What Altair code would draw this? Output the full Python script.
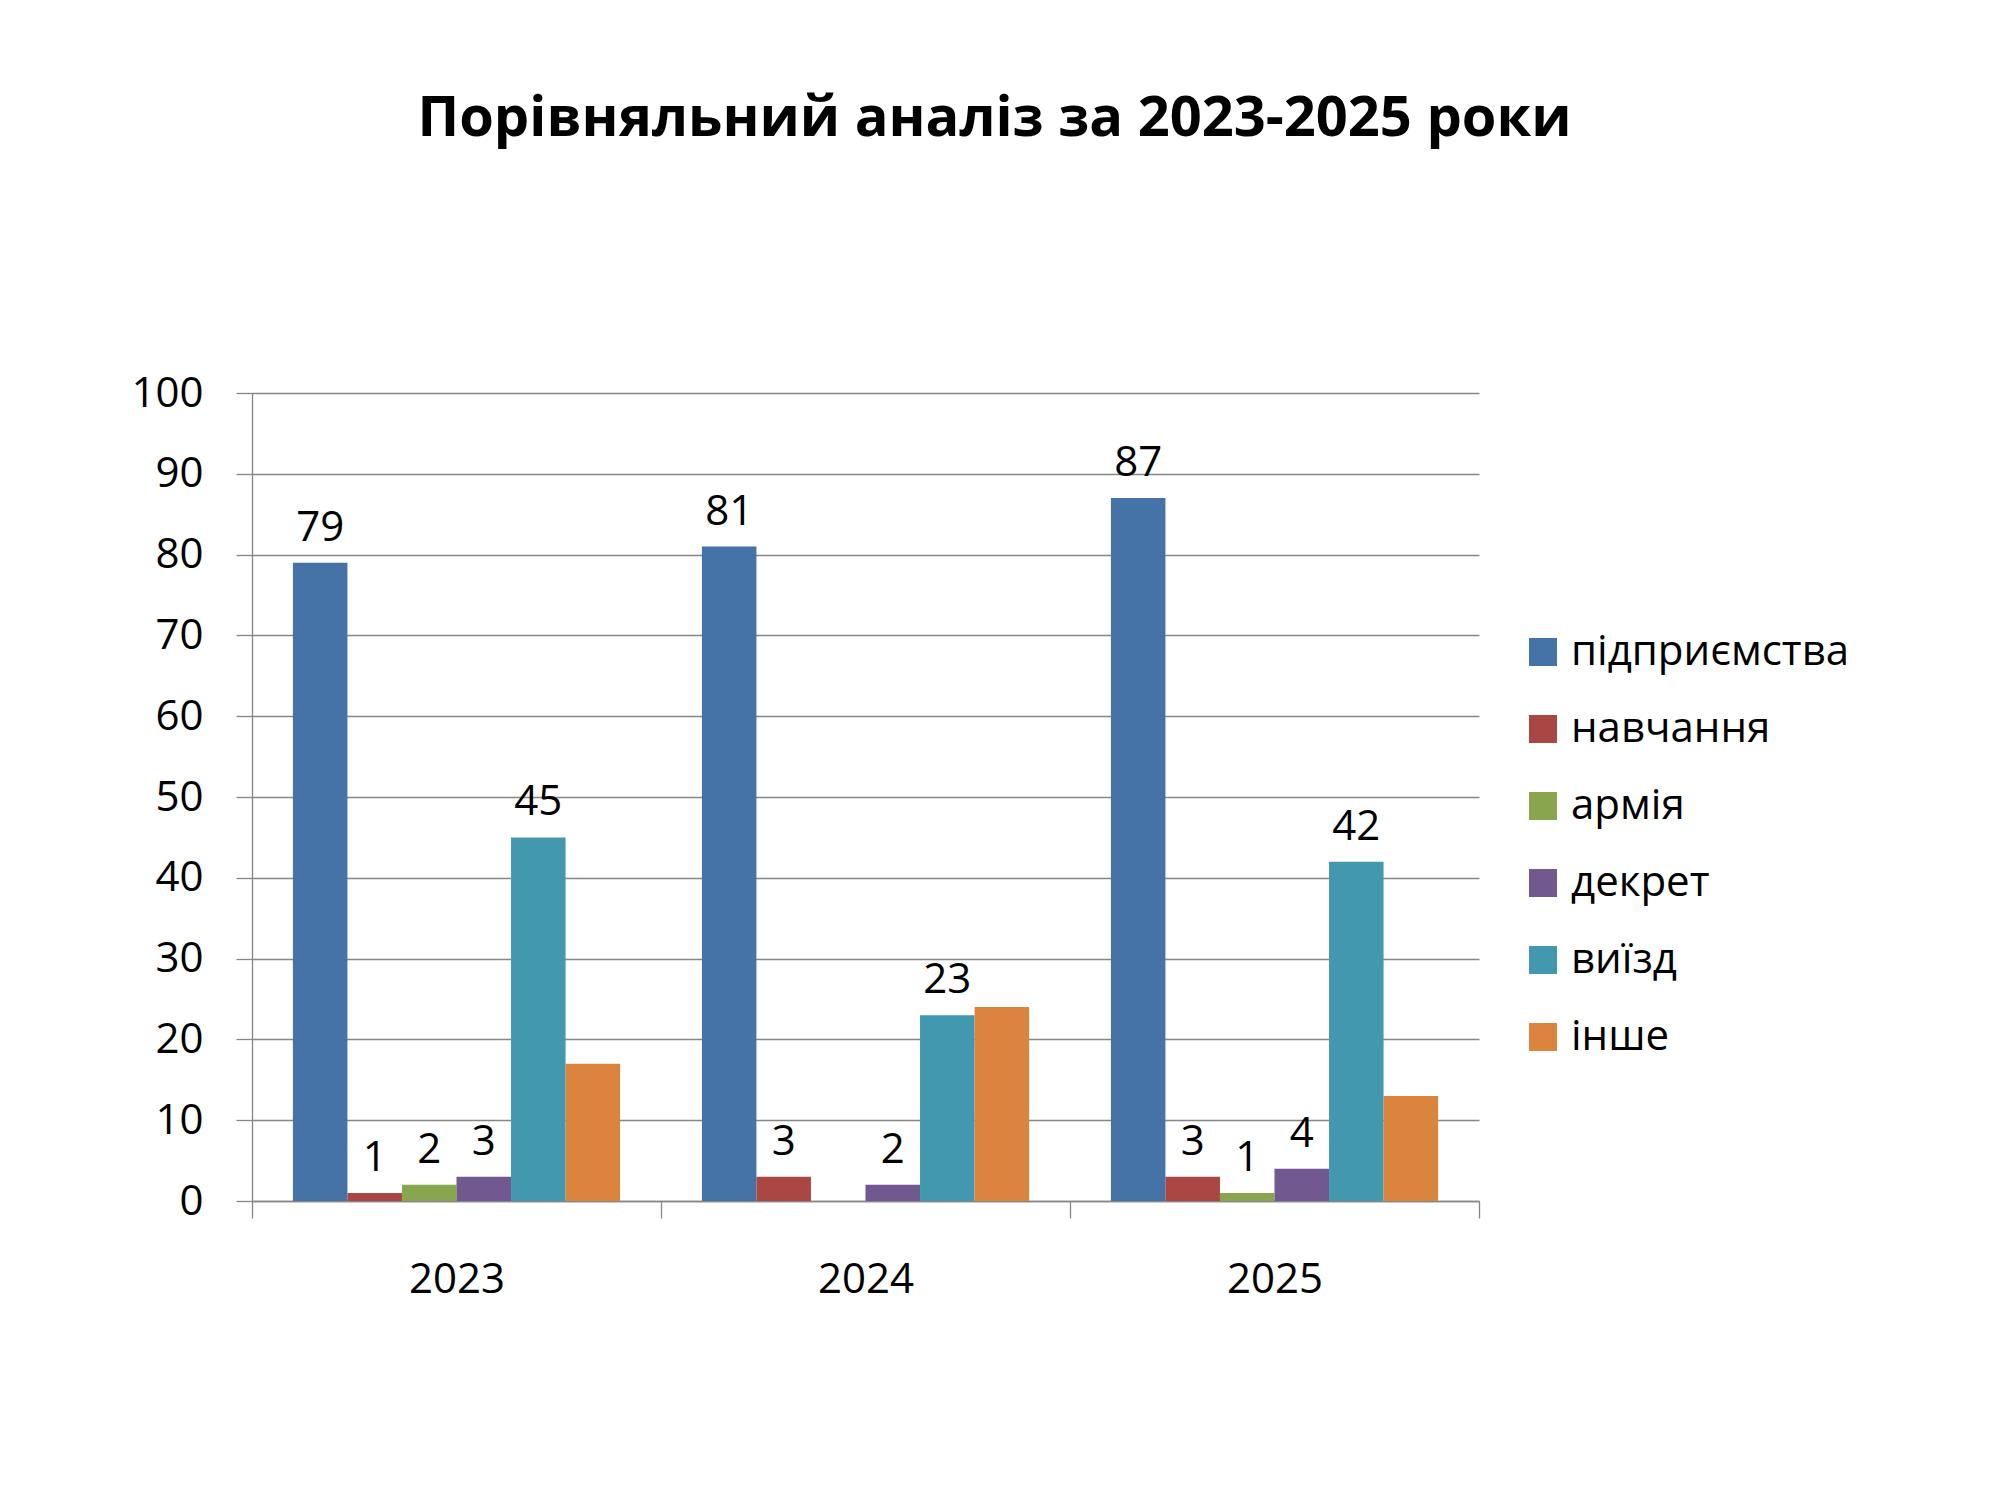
import altair as alt
import pandas as pd

years = ["2023", "2024", "2025"]
categories = ["підприємства", "навчання", "армія", "декрет", "виїзд", "інше"]
colors = ["#4572A7", "#AA4643", "#89A54E", "#71588F", "#4198AF", "#DB843D"]

v_pidpr = [79, 81, 87]
v_navch = [1, 3, 3]
v_armia = [2, None, 1]
v_dekret = [3, 2, 4]
v_vyizd = [45, 23, 42]
v_inshe = [17, 24, 13]

series = [v_pidpr, v_navch, v_armia, v_dekret, v_vyizd, v_inshe]
rows = []
for cat, vals in zip(categories, series):
    for y, v in zip(years, vals):
        rows.append({"year": y, "category": cat, "value": v})
df = pd.DataFrame(rows)

FONT = "Open Sans"
GRAY = "#868686"

x_enc = alt.X("year:N", sort=years, title=None,
              scale=alt.Scale(paddingInner=0, paddingOuter=0),
              axis=alt.Axis(labelAngle=0, tickBand="extent", tickSize=17,
                            tickColor=GRAY, domainColor=GRAY, domainWidth=1.3,
                            tickWidth=1.3, labelFontSize=42, labelFont=FONT,
                            labelColor="black", labelPadding=41, grid=False))
xo_enc = alt.XOffset("category:N", sort=categories,
                     scale=alt.Scale(paddingInner=0, paddingOuter=0.75))
y_enc = alt.Y("value:Q", title=None,
              scale=alt.Scale(domain=[0, 100], nice=False),
              axis=alt.Axis(values=list(range(0, 101, 10)), tickSize=16,
                            tickColor=GRAY, domainColor=GRAY, domainWidth=1.3,
                            tickWidth=1.3, gridColor=GRAY, gridWidth=1.3,
                            labelFontSize=42, labelFont=FONT, labelColor="black",
                            labelPadding=33))

bars = alt.Chart(df).mark_bar().encode(
    x=x_enc,
    xOffset=xo_enc,
    y=y_enc,
    color=alt.Color("category:N", sort=categories,
                    scale=alt.Scale(domain=categories, range=colors),
                    legend=alt.Legend(title=None, orient="none", legendX=1270,
                                      legendY=238, symbolType="square",
                                      symbolSize=784, symbolStrokeWidth=0,
                                      labelFontSize=42, labelFont=FONT,
                                      labelColor="black", labelOffset=7,
                                      labelLimit=0, rowPadding=35)),
)

labels = alt.Chart(df).transform_filter(
    "isValid(datum.value) && datum.category != 'інше'"
).mark_text(baseline="alphabetic", dy=-22, fontSize=42, font=FONT,
            color="black").encode(
    x=alt.X("year:N", sort=years),
    xOffset=alt.XOffset("category:N", sort=categories),
    y=alt.Y("value:Q"),
    text=alt.Text("value:Q", format="d"),
)

chart = alt.layer(bars, labels).properties(
    width=1227,
    height=808,
    background="white",
    autosize=alt.AutoSizeParams(type="none"),
    padding={"left": 244, "top": 385, "right": 500, "bottom": 280},
    title=alt.TitleParams(
        "Порівняльний аналіз за 2023-2025 роки",
        fontSize=56, font=FONT, fontWeight="bold", color="black",
        anchor="middle", dx=129, baseline="alphabetic", offset=180,
    ),
).configure_view(stroke=None)

chart.save("out.html", embed_options={"renderer": "svg", "actions": False})
